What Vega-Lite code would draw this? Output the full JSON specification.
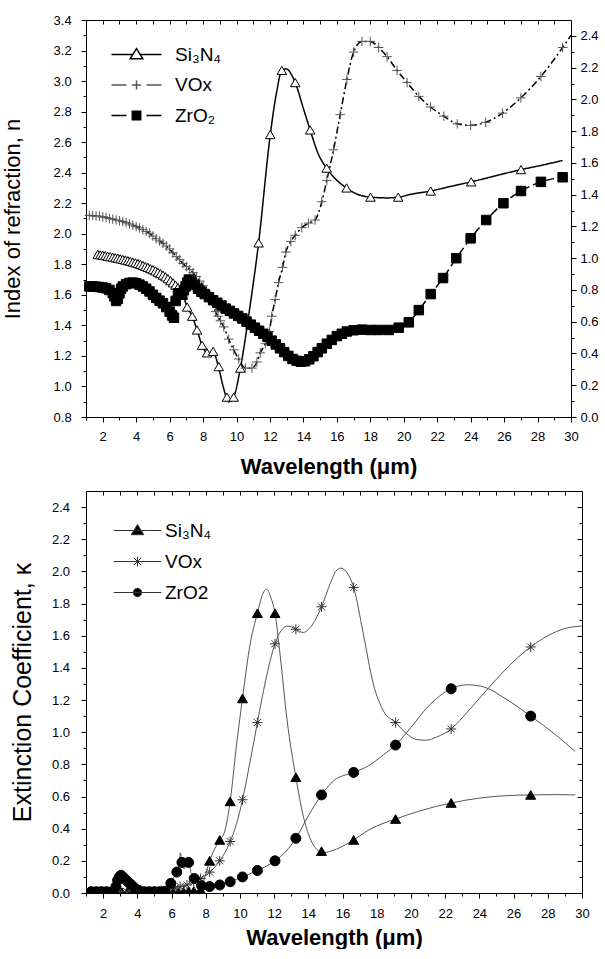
{
"$schema": "https://vega.github.io/schema/vega-lite/v6.json",
"padding": {"left": 0, "top": 13, "right": 0, "bottom": 0},
"spacing": 74,
"bounds": "flush",
"resolve": {"scale": {"shape": "independent", "fill": "independent", "stroke": "independent"}, "legend": {"shape": "independent", "fill": "independent", "stroke": "independent"}},
"config": {
  "font": "Liberation Sans",
  "view": {"stroke": "black", "strokeWidth": 1},
  "axis": {"grid": false, "domainColor": "black", "tickColor": "black", "labelColor": "black", "titleColor": "black", "labelFontSize": 13, "tickWidth": 1, "domainWidth": 1, "labelFont": "Liberation Sans", "titleFont": "Liberation Sans", "labelFlush": false, "labelOverlap": false},
  "legend": {"labelFont": "Liberation Sans", "labelColor": "black"}
},
"datasets": {
  "nl": [
    {"series":"Si₃N₄","wl":1.7,"val":1.865},{"series":"Si₃N₄","wl":2.0,"val":1.86},{"series":"Si₃N₄","wl":2.5,"val":1.85},{"series":"Si₃N₄","wl":3.0,"val":1.84},{"series":"Si₃N₄","wl":3.5,"val":1.824},{"series":"Si₃N₄","wl":4.0,"val":1.808},{"series":"Si₃N₄","wl":4.5,"val":1.79},{"series":"Si₃N₄","wl":5.0,"val":1.765},{"series":"Si₃N₄","wl":5.5,"val":1.735},{"series":"Si₃N₄","wl":6.0,"val":1.697},{"series":"Si₃N₄","wl":6.5,"val":1.648},{"series":"Si₃N₄","wl":6.8,"val":1.60},{"series":"Si₃N₄","wl":7.05,"val":1.52},{"series":"Si₃N₄","wl":7.35,"val":1.46},{"series":"Si₃N₄","wl":7.64,"val":1.37},{"series":"Si₃N₄","wl":7.94,"val":1.27},{"series":"Si₃N₄","wl":8.24,"val":1.22},{"series":"Si₃N₄","wl":8.6,"val":1.225},{"series":"Si₃N₄","wl":8.94,"val":1.12},{"series":"Si₃N₄","wl":9.2,"val":1.0},{"series":"Si₃N₄","wl":9.53,"val":0.90},{"series":"Si₃N₄","wl":9.83,"val":0.93},{"series":"Si₃N₄","wl":10.23,"val":1.12},{"series":"Si₃N₄","wl":10.8,"val":1.52},{"series":"Si₃N₄","wl":11.32,"val":1.94},{"series":"Si₃N₄","wl":12.02,"val":2.65},{"series":"Si₃N₄","wl":12.4,"val":2.93},{"series":"Si₃N₄","wl":12.71,"val":3.07},{"series":"Si₃N₄","wl":12.95,"val":3.08},{"series":"Si₃N₄","wl":13.51,"val":2.99},{"series":"Si₃N₄","wl":14.0,"val":2.82},{"series":"Si₃N₄","wl":14.4,"val":2.68},{"series":"Si₃N₄","wl":14.9,"val":2.52},{"series":"Si₃N₄","wl":15.39,"val":2.43},{"series":"Si₃N₄","wl":16.0,"val":2.35},{"series":"Si₃N₄","wl":16.58,"val":2.30},{"series":"Si₃N₄","wl":17.2,"val":2.26},{"series":"Si₃N₄","wl":18.01,"val":2.24},{"series":"Si₃N₄","wl":19.0,"val":2.235},{"series":"Si₃N₄","wl":19.67,"val":2.24},{"series":"Si₃N₄","wl":20.5,"val":2.26},{"series":"Si₃N₄","wl":21.61,"val":2.28},{"series":"Si₃N₄","wl":22.8,"val":2.31},{"series":"Si₃N₄","wl":24.03,"val":2.34},{"series":"Si₃N₄","wl":25.5,"val":2.38},{"series":"Si₃N₄","wl":27.01,"val":2.42},{"series":"Si₃N₄","wl":28.3,"val":2.45},{"series":"Si₃N₄","wl":29.5,"val":2.48},
    {"series":"VOx","wl":1.2,"val":2.12},{"series":"VOx","wl":1.8,"val":2.115},{"series":"VOx","wl":2.5,"val":2.10},{"series":"VOx","wl":3.2,"val":2.08},{"series":"VOx","wl":3.7,"val":2.06},{"series":"VOx","wl":4.2,"val":2.038},{"series":"VOx","wl":4.7,"val":2.01},{"series":"VOx","wl":5.2,"val":1.967},{"series":"VOx","wl":5.7,"val":1.93},{"series":"VOx","wl":6.2,"val":1.875},{"series":"VOx","wl":6.8,"val":1.805},{"series":"VOx","wl":7.4,"val":1.745},{"series":"VOx","wl":7.8,"val":1.69},{"series":"VOx","wl":8.2,"val":1.625},{"series":"VOx","wl":8.5,"val":1.56},{"series":"VOx","wl":8.74,"val":1.49},{"series":"VOx","wl":9.04,"val":1.43},{"series":"VOx","wl":9.24,"val":1.39},{"series":"VOx","wl":9.53,"val":1.31},{"series":"VOx","wl":9.83,"val":1.24},{"series":"VOx","wl":10.13,"val":1.18},{"series":"VOx","wl":10.53,"val":1.12},{"series":"VOx","wl":10.92,"val":1.12},{"series":"VOx","wl":11.22,"val":1.16},{"series":"VOx","wl":11.42,"val":1.22},{"series":"VOx","wl":11.72,"val":1.28},{"series":"VOx","wl":11.96,"val":1.36},{"series":"VOx","wl":12.11,"val":1.46},{"series":"VOx","wl":12.31,"val":1.57},{"series":"VOx","wl":12.51,"val":1.68},{"series":"VOx","wl":12.75,"val":1.78},{"series":"VOx","wl":12.95,"val":1.88},{"series":"VOx","wl":13.25,"val":1.95},{"series":"VOx","wl":13.51,"val":1.99},{"series":"VOx","wl":13.9,"val":2.04},{"series":"VOx","wl":14.3,"val":2.07},{"series":"VOx","wl":14.7,"val":2.09},{"series":"VOx","wl":15.1,"val":2.21},{"series":"VOx","wl":15.4,"val":2.35},{"series":"VOx","wl":15.8,"val":2.55},{"series":"VOx","wl":16.2,"val":2.78},{"series":"VOx","wl":16.6,"val":3.01},{"series":"VOx","wl":17.0,"val":3.19},{"series":"VOx","wl":17.5,"val":3.26},{"series":"VOx","wl":18.0,"val":3.26},{"series":"VOx","wl":18.5,"val":3.22},{"series":"VOx","wl":19.0,"val":3.16},{"series":"VOx","wl":19.6,"val":3.07},{"series":"VOx","wl":20.2,"val":2.99},{"series":"VOx","wl":20.9,"val":2.90},{"series":"VOx","wl":21.6,"val":2.83},{"series":"VOx","wl":22.4,"val":2.77},{"series":"VOx","wl":23.2,"val":2.72},{"series":"VOx","wl":24.0,"val":2.71},{"series":"VOx","wl":24.9,"val":2.73},{"series":"VOx","wl":25.9,"val":2.79},{"series":"VOx","wl":27.0,"val":2.89},{"series":"VOx","wl":28.2,"val":3.03},{"series":"VOx","wl":29.5,"val":3.22},{"series":"VOx","wl":30.0,"val":3.30},
    {"series":"ZrO₂","wl":1.2,"val":1.655},{"series":"ZrO₂","wl":1.8,"val":1.651},{"series":"ZrO₂","wl":2.2,"val":1.643},{"series":"ZrO₂","wl":2.5,"val":1.625},{"series":"ZrO₂","wl":2.7,"val":1.59},{"series":"ZrO₂","wl":2.82,"val":1.555},{"series":"ZrO₂","wl":2.95,"val":1.59},{"series":"ZrO₂","wl":3.1,"val":1.64},{"series":"ZrO₂","wl":3.3,"val":1.665},{"series":"ZrO₂","wl":3.8,"val":1.68},{"series":"ZrO₂","wl":4.4,"val":1.655},{"series":"ZrO₂","wl":5.0,"val":1.60},{"series":"ZrO₂","wl":5.6,"val":1.545},{"series":"ZrO₂","wl":6.0,"val":1.49},{"series":"ZrO₂","wl":6.26,"val":1.45},{"series":"ZrO₂","wl":6.36,"val":1.56},{"series":"ZrO₂","wl":6.5,"val":1.61},{"series":"ZrO₂","wl":6.75,"val":1.60},{"series":"ZrO₂","wl":6.95,"val":1.655},{"series":"ZrO₂","wl":7.15,"val":1.70},{"series":"ZrO₂","wl":7.5,"val":1.665},{"series":"ZrO₂","wl":8.1,"val":1.605},{"series":"ZrO₂","wl":8.85,"val":1.548},{"series":"ZrO₂","wl":9.6,"val":1.495},{"series":"ZrO₂","wl":10.35,"val":1.445},{"series":"ZrO₂","wl":11.1,"val":1.385},{"series":"ZrO₂","wl":11.85,"val":1.325},{"series":"ZrO₂","wl":12.6,"val":1.25},{"series":"ZrO₂","wl":13.1,"val":1.20},{"series":"ZrO₂","wl":13.6,"val":1.168},{"series":"ZrO₂","wl":14.1,"val":1.165},{"series":"ZrO₂","wl":14.6,"val":1.198},{"series":"ZrO₂","wl":15.1,"val":1.25},{"series":"ZrO₂","wl":15.7,"val":1.305},{"series":"ZrO₂","wl":16.3,"val":1.345},{"series":"ZrO₂","wl":17.0,"val":1.368},{"series":"ZrO₂","wl":18.0,"val":1.37},{"series":"ZrO₂","wl":19.1,"val":1.37},{"series":"ZrO₂","wl":19.7,"val":1.385},{"series":"ZrO₂","wl":20.3,"val":1.42},{"series":"ZrO₂","wl":20.9,"val":1.50},{"series":"ZrO₂","wl":21.61,"val":1.605},{"series":"ZrO₂","wl":22.35,"val":1.71},{"series":"ZrO₂","wl":23.14,"val":1.84},{"series":"ZrO₂","wl":24.0,"val":1.97},{"series":"ZrO₂","wl":24.93,"val":2.09},{"series":"ZrO₂","wl":25.96,"val":2.20},{"series":"ZrO₂","wl":27.01,"val":2.28},{"series":"ZrO₂","wl":28.2,"val":2.34},{"series":"ZrO₂","wl":29.5,"val":2.37}
  ],
  "nm": [
    {"series":"Si₃N₄","wl":1.7,"val":1.865},{"series":"Si₃N₄","wl":1.85,"val":1.862},{"series":"Si₃N₄","wl":2.0,"val":1.86},{"series":"Si₃N₄","wl":2.15,"val":1.857},{"series":"Si₃N₄","wl":2.3,"val":1.853},{"series":"Si₃N₄","wl":2.45,"val":1.85},{"series":"Si₃N₄","wl":2.6,"val":1.847},{"series":"Si₃N₄","wl":2.75,"val":1.843},{"series":"Si₃N₄","wl":2.9,"val":1.84},{"series":"Si₃N₄","wl":3.05,"val":1.836},{"series":"Si₃N₄","wl":3.2,"val":1.832},{"series":"Si₃N₄","wl":3.35,"val":1.828},{"series":"Si₃N₄","wl":3.5,"val":1.824},{"series":"Si₃N₄","wl":3.65,"val":1.82},{"series":"Si₃N₄","wl":3.8,"val":1.815},{"series":"Si₃N₄","wl":3.95,"val":1.81},{"series":"Si₃N₄","wl":4.1,"val":1.805},{"series":"Si₃N₄","wl":4.25,"val":1.80},{"series":"Si₃N₄","wl":4.4,"val":1.793},{"series":"Si₃N₄","wl":4.55,"val":1.786},{"series":"Si₃N₄","wl":4.7,"val":1.78},{"series":"Si₃N₄","wl":4.85,"val":1.772},{"series":"Si₃N₄","wl":5.0,"val":1.765},{"series":"Si₃N₄","wl":5.15,"val":1.757},{"series":"Si₃N₄","wl":5.3,"val":1.748},{"series":"Si₃N₄","wl":5.45,"val":1.739},{"series":"Si₃N₄","wl":5.6,"val":1.729},{"series":"Si₃N₄","wl":5.75,"val":1.718},{"series":"Si₃N₄","wl":5.9,"val":1.706},{"series":"Si₃N₄","wl":6.05,"val":1.693},{"series":"Si₃N₄","wl":6.2,"val":1.679},{"series":"Si₃N₄","wl":6.35,"val":1.664},{"series":"Si₃N₄","wl":6.5,"val":1.648},{"series":"Si₃N₄","wl":6.65,"val":1.625},{"series":"Si₃N₄","wl":6.8,"val":1.60},{"series":"Si₃N₄","wl":7.05,"val":1.52},{"series":"Si₃N₄","wl":7.35,"val":1.46},{"series":"Si₃N₄","wl":7.64,"val":1.37},{"series":"Si₃N₄","wl":7.94,"val":1.27},{"series":"Si₃N₄","wl":8.24,"val":1.22},{"series":"Si₃N₄","wl":8.6,"val":1.23},{"series":"Si₃N₄","wl":8.94,"val":1.13},{"series":"Si₃N₄","wl":9.43,"val":0.93},{"series":"Si₃N₄","wl":9.83,"val":0.93},{"series":"Si₃N₄","wl":10.23,"val":1.12},{"series":"Si₃N₄","wl":11.32,"val":1.94},{"series":"Si₃N₄","wl":12.02,"val":2.65},{"series":"Si₃N₄","wl":12.71,"val":3.07},{"series":"Si₃N₄","wl":13.51,"val":2.99},{"series":"Si₃N₄","wl":14.4,"val":2.68},{"series":"Si₃N₄","wl":15.39,"val":2.43},{"series":"Si₃N₄","wl":16.58,"val":2.30},{"series":"Si₃N₄","wl":18.01,"val":2.24},{"series":"Si₃N₄","wl":19.67,"val":2.24},{"series":"Si₃N₄","wl":21.61,"val":2.28},{"series":"Si₃N₄","wl":24.03,"val":2.34},{"series":"Si₃N₄","wl":27.01,"val":2.42},
    {"series":"VOx","wl":1.2,"val":2.12},{"series":"VOx","wl":1.4,"val":2.12},{"series":"VOx","wl":1.6,"val":2.117},{"series":"VOx","wl":1.8,"val":2.115},{"series":"VOx","wl":2.0,"val":2.11},{"series":"VOx","wl":2.2,"val":2.106},{"series":"VOx","wl":2.4,"val":2.10},{"series":"VOx","wl":2.6,"val":2.096},{"series":"VOx","wl":2.8,"val":2.09},{"series":"VOx","wl":3.0,"val":2.085},{"series":"VOx","wl":3.2,"val":2.08},{"series":"VOx","wl":3.4,"val":2.072},{"series":"VOx","wl":3.6,"val":2.064},{"series":"VOx","wl":3.8,"val":2.056},{"series":"VOx","wl":4.0,"val":2.047},{"series":"VOx","wl":4.2,"val":2.038},{"series":"VOx","wl":4.4,"val":2.027},{"series":"VOx","wl":4.6,"val":2.015},{"series":"VOx","wl":4.8,"val":2.003},{"series":"VOx","wl":5.0,"val":1.985},{"series":"VOx","wl":5.2,"val":1.967},{"series":"VOx","wl":5.4,"val":1.953},{"series":"VOx","wl":5.6,"val":1.938},{"series":"VOx","wl":5.8,"val":1.92},{"series":"VOx","wl":6.0,"val":1.90},{"series":"VOx","wl":6.2,"val":1.875},{"series":"VOx","wl":6.4,"val":1.85},{"series":"VOx","wl":6.6,"val":1.83},{"series":"VOx","wl":6.8,"val":1.805},{"series":"VOx","wl":7.0,"val":1.785},{"series":"VOx","wl":7.2,"val":1.765},{"series":"VOx","wl":7.4,"val":1.745},{"series":"VOx","wl":7.6,"val":1.72},{"series":"VOx","wl":7.8,"val":1.69},{"series":"VOx","wl":8.0,"val":1.66},{"series":"VOx","wl":8.2,"val":1.625},{"series":"VOx","wl":8.5,"val":1.56},{"series":"VOx","wl":8.74,"val":1.49},{"series":"VOx","wl":8.9,"val":1.46},{"series":"VOx","wl":9.04,"val":1.43},{"series":"VOx","wl":9.24,"val":1.39},{"series":"VOx","wl":9.53,"val":1.31},{"series":"VOx","wl":9.83,"val":1.24},{"series":"VOx","wl":10.13,"val":1.18},{"series":"VOx","wl":10.53,"val":1.12},{"series":"VOx","wl":10.92,"val":1.12},{"series":"VOx","wl":11.22,"val":1.16},{"series":"VOx","wl":11.42,"val":1.22},{"series":"VOx","wl":11.72,"val":1.28},{"series":"VOx","wl":11.96,"val":1.36},{"series":"VOx","wl":12.11,"val":1.46},{"series":"VOx","wl":12.31,"val":1.57},{"series":"VOx","wl":12.51,"val":1.68},{"series":"VOx","wl":12.75,"val":1.78},{"series":"VOx","wl":12.95,"val":1.88},{"series":"VOx","wl":13.25,"val":1.95},{"series":"VOx","wl":13.51,"val":1.99},{"series":"VOx","wl":13.9,"val":2.04},{"series":"VOx","wl":14.3,"val":2.07},{"series":"VOx","wl":14.7,"val":2.09},{"series":"VOx","wl":15.1,"val":2.21},{"series":"VOx","wl":15.4,"val":2.35},{"series":"VOx","wl":15.8,"val":2.55},{"series":"VOx","wl":16.2,"val":2.78},{"series":"VOx","wl":16.6,"val":3.01},{"series":"VOx","wl":17.0,"val":3.19},{"series":"VOx","wl":17.5,"val":3.26},{"series":"VOx","wl":18.0,"val":3.26},{"series":"VOx","wl":18.5,"val":3.22},{"series":"VOx","wl":19.0,"val":3.16},{"series":"VOx","wl":19.6,"val":3.07},{"series":"VOx","wl":20.2,"val":2.99},{"series":"VOx","wl":20.9,"val":2.90},{"series":"VOx","wl":21.6,"val":2.83},{"series":"VOx","wl":22.4,"val":2.77},{"series":"VOx","wl":23.2,"val":2.72},{"series":"VOx","wl":24.0,"val":2.71},{"series":"VOx","wl":24.9,"val":2.73},{"series":"VOx","wl":25.9,"val":2.79},{"series":"VOx","wl":27.0,"val":2.89},{"series":"VOx","wl":28.2,"val":3.03},{"series":"VOx","wl":29.5,"val":3.22},
    {"series":"ZrO₂","wl":1.2,"val":1.655},{"series":"ZrO₂","wl":1.4,"val":1.655},{"series":"ZrO₂","wl":1.6,"val":1.653},{"series":"ZrO₂","wl":1.8,"val":1.651},{"series":"ZrO₂","wl":2.0,"val":1.648},{"series":"ZrO₂","wl":2.2,"val":1.643},{"series":"ZrO₂","wl":2.4,"val":1.632},{"series":"ZrO₂","wl":2.6,"val":1.612},{"series":"ZrO₂","wl":2.7,"val":1.59},{"series":"ZrO₂","wl":2.8,"val":1.56},{"series":"ZrO₂","wl":2.9,"val":1.575},{"series":"ZrO₂","wl":3.0,"val":1.61},{"series":"ZrO₂","wl":3.1,"val":1.64},{"series":"ZrO₂","wl":3.2,"val":1.655},{"series":"ZrO₂","wl":3.4,"val":1.67},{"series":"ZrO₂","wl":3.6,"val":1.678},{"series":"ZrO₂","wl":3.8,"val":1.68},{"series":"ZrO₂","wl":4.0,"val":1.676},{"series":"ZrO₂","wl":4.2,"val":1.667},{"series":"ZrO₂","wl":4.4,"val":1.655},{"series":"ZrO₂","wl":4.6,"val":1.64},{"series":"ZrO₂","wl":4.8,"val":1.622},{"series":"ZrO₂","wl":5.0,"val":1.60},{"series":"ZrO₂","wl":5.2,"val":1.58},{"series":"ZrO₂","wl":5.4,"val":1.562},{"series":"ZrO₂","wl":5.6,"val":1.545},{"series":"ZrO₂","wl":5.8,"val":1.52},{"series":"ZrO₂","wl":6.0,"val":1.49},{"series":"ZrO₂","wl":6.15,"val":1.465},{"series":"ZrO₂","wl":6.26,"val":1.45},{"series":"ZrO₂","wl":6.36,"val":1.56},{"series":"ZrO₂","wl":6.5,"val":1.61},{"series":"ZrO₂","wl":6.62,"val":1.605},{"series":"ZrO₂","wl":6.75,"val":1.60},{"series":"ZrO₂","wl":6.85,"val":1.63},{"series":"ZrO₂","wl":6.95,"val":1.655},{"series":"ZrO₂","wl":7.05,"val":1.68},{"series":"ZrO₂","wl":7.15,"val":1.70},{"series":"ZrO₂","wl":7.3,"val":1.685},{"series":"ZrO₂","wl":7.5,"val":1.665},{"series":"ZrO₂","wl":7.7,"val":1.64},{"series":"ZrO₂","wl":7.9,"val":1.62},{"series":"ZrO₂","wl":8.1,"val":1.605},{"series":"ZrO₂","wl":8.35,"val":1.585},{"series":"ZrO₂","wl":8.6,"val":1.565},{"series":"ZrO₂","wl":8.85,"val":1.548},{"series":"ZrO₂","wl":9.1,"val":1.53},{"series":"ZrO₂","wl":9.35,"val":1.51},{"series":"ZrO₂","wl":9.6,"val":1.495},{"series":"ZrO₂","wl":9.85,"val":1.478},{"series":"ZrO₂","wl":10.1,"val":1.462},{"series":"ZrO₂","wl":10.35,"val":1.445},{"series":"ZrO₂","wl":10.6,"val":1.425},{"series":"ZrO₂","wl":10.85,"val":1.405},{"series":"ZrO₂","wl":11.1,"val":1.385},{"series":"ZrO₂","wl":11.35,"val":1.365},{"series":"ZrO₂","wl":11.6,"val":1.345},{"series":"ZrO₂","wl":11.85,"val":1.325},{"series":"ZrO₂","wl":12.1,"val":1.30},{"series":"ZrO₂","wl":12.35,"val":1.275},{"series":"ZrO₂","wl":12.6,"val":1.25},{"series":"ZrO₂","wl":12.85,"val":1.225},{"series":"ZrO₂","wl":13.1,"val":1.20},{"series":"ZrO₂","wl":13.35,"val":1.18},{"series":"ZrO₂","wl":13.6,"val":1.168},{"series":"ZrO₂","wl":13.85,"val":1.162},{"series":"ZrO₂","wl":14.1,"val":1.165},{"series":"ZrO₂","wl":14.35,"val":1.178},{"series":"ZrO₂","wl":14.6,"val":1.198},{"series":"ZrO₂","wl":14.85,"val":1.225},{"series":"ZrO₂","wl":15.1,"val":1.25},{"series":"ZrO₂","wl":15.4,"val":1.28},{"series":"ZrO₂","wl":15.7,"val":1.305},{"series":"ZrO₂","wl":16.0,"val":1.33},{"series":"ZrO₂","wl":16.3,"val":1.345},{"series":"ZrO₂","wl":16.6,"val":1.36},{"series":"ZrO₂","wl":17.0,"val":1.368},{"series":"ZrO₂","wl":17.5,"val":1.372},{"series":"ZrO₂","wl":18.0,"val":1.37},{"series":"ZrO₂","wl":18.5,"val":1.37},{"series":"ZrO₂","wl":19.1,"val":1.37},{"series":"ZrO₂","wl":19.7,"val":1.385},{"series":"ZrO₂","wl":20.3,"val":1.42},{"series":"ZrO₂","wl":20.9,"val":1.50},{"series":"ZrO₂","wl":21.61,"val":1.605},{"series":"ZrO₂","wl":22.35,"val":1.71},{"series":"ZrO₂","wl":23.14,"val":1.84},{"series":"ZrO₂","wl":24.0,"val":1.97},{"series":"ZrO₂","wl":24.93,"val":2.09},{"series":"ZrO₂","wl":25.96,"val":2.20},{"series":"ZrO₂","wl":27.01,"val":2.28},{"series":"ZrO₂","wl":28.2,"val":2.34},{"series":"ZrO₂","wl":29.5,"val":2.37}
  ],
  "kl": [
    {"series":"Si₃N₄","wl":1.3,"val":0.005},{"series":"Si₃N₄","wl":6.0,"val":0.005},{"series":"Si₃N₄","wl":7.0,"val":0.01},{"series":"Si₃N₄","wl":7.7,"val":0.02},{"series":"Si₃N₄","wl":7.95,"val":0.1},{"series":"Si₃N₄","wl":8.23,"val":0.20},{"series":"Si₃N₄","wl":8.5,"val":0.27},{"series":"Si₃N₄","wl":8.82,"val":0.33},{"series":"Si₃N₄","wl":9.1,"val":0.38},{"series":"Si₃N₄","wl":9.43,"val":0.57},{"series":"Si₃N₄","wl":9.8,"val":0.92},{"series":"Si₃N₄","wl":10.15,"val":1.21},{"series":"Si₃N₄","wl":10.6,"val":1.55},{"series":"Si₃N₄","wl":11.02,"val":1.74},{"series":"Si₃N₄","wl":11.3,"val":1.85},{"series":"Si₃N₄","wl":11.55,"val":1.89},{"series":"Si₃N₄","wl":11.8,"val":1.84},{"series":"Si₃N₄","wl":12.05,"val":1.74},{"series":"Si₃N₄","wl":12.35,"val":1.48},{"series":"Si₃N₄","wl":12.75,"val":1.08},{"series":"Si₃N₄","wl":13.27,"val":0.72},{"series":"Si₃N₄","wl":13.7,"val":0.48},{"series":"Si₃N₄","wl":14.1,"val":0.34},{"series":"Si₃N₄","wl":14.5,"val":0.27},{"series":"Si₃N₄","wl":14.85,"val":0.25},{"series":"Si₃N₄","wl":15.3,"val":0.26},{"series":"Si₃N₄","wl":16.0,"val":0.29},{"series":"Si₃N₄","wl":16.65,"val":0.33},{"series":"Si₃N₄","wl":17.5,"val":0.39},{"series":"Si₃N₄","wl":18.3,"val":0.43},{"series":"Si₃N₄","wl":19.1,"val":0.46},{"series":"Si₃N₄","wl":20.5,"val":0.51},{"series":"Si₃N₄","wl":22.35,"val":0.56},{"series":"Si₃N₄","wl":24.0,"val":0.59},{"series":"Si₃N₄","wl":25.5,"val":0.605},{"series":"Si₃N₄","wl":27.0,"val":0.61},{"series":"Si₃N₄","wl":28.5,"val":0.612},{"series":"Si₃N₄","wl":29.6,"val":0.61},
    {"series":"VOx","wl":1.3,"val":0.005},{"series":"VOx","wl":4.0,"val":0.01},{"series":"VOx","wl":6.0,"val":0.02},{"series":"VOx","wl":6.2,"val":0.03},{"series":"VOx","wl":6.5,"val":0.04},{"series":"VOx","wl":6.9,"val":0.05},{"series":"VOx","wl":7.3,"val":0.07},{"series":"VOx","wl":7.7,"val":0.09},{"series":"VOx","wl":8.23,"val":0.13},{"series":"VOx","wl":8.82,"val":0.20},{"series":"VOx","wl":9.43,"val":0.32},{"series":"VOx","wl":9.8,"val":0.43},{"series":"VOx","wl":10.15,"val":0.58},{"series":"VOx","wl":10.6,"val":0.82},{"series":"VOx","wl":11.02,"val":1.06},{"series":"VOx","wl":11.5,"val":1.32},{"series":"VOx","wl":12.05,"val":1.55},{"series":"VOx","wl":12.4,"val":1.63},{"series":"VOx","wl":12.8,"val":1.66},{"series":"VOx","wl":13.27,"val":1.64},{"series":"VOx","wl":13.7,"val":1.62},{"series":"VOx","wl":14.1,"val":1.65},{"series":"VOx","wl":14.77,"val":1.78},{"series":"VOx","wl":15.3,"val":1.93},{"series":"VOx","wl":15.6,"val":2.0},{"series":"VOx","wl":15.9,"val":2.02},{"series":"VOx","wl":16.2,"val":2.0},{"series":"VOx","wl":16.65,"val":1.90},{"series":"VOx","wl":17.2,"val":1.62},{"series":"VOx","wl":17.8,"val":1.30},{"series":"VOx","wl":18.4,"val":1.13},{"series":"VOx","wl":19.1,"val":1.06},{"series":"VOx","wl":19.7,"val":0.995},{"series":"VOx","wl":20.3,"val":0.955},{"series":"VOx","wl":20.9,"val":0.95},{"series":"VOx","wl":21.5,"val":0.97},{"series":"VOx","wl":22.35,"val":1.02},{"series":"VOx","wl":23.0,"val":1.09},{"series":"VOx","wl":24.0,"val":1.21},{"series":"VOx","wl":25.0,"val":1.33},{"series":"VOx","wl":26.0,"val":1.44},{"series":"VOx","wl":27.0,"val":1.53},{"series":"VOx","wl":28.0,"val":1.60},{"series":"VOx","wl":29.0,"val":1.645},{"series":"VOx","wl":30.0,"val":1.66},
    {"series":"ZrO2","wl":1.3,"val":0.01},{"series":"ZrO2","wl":2.6,"val":0.01},{"series":"ZrO2","wl":2.75,"val":0.04},{"series":"ZrO2","wl":2.85,"val":0.08},{"series":"ZrO2","wl":2.95,"val":0.10},{"series":"ZrO2","wl":3.05,"val":0.11},{"series":"ZrO2","wl":3.15,"val":0.10},{"series":"ZrO2","wl":3.3,"val":0.085},{"series":"ZrO2","wl":3.45,"val":0.07},{"series":"ZrO2","wl":3.6,"val":0.055},{"series":"ZrO2","wl":3.75,"val":0.04},{"series":"ZrO2","wl":3.9,"val":0.025},{"series":"ZrO2","wl":4.1,"val":0.015},{"series":"ZrO2","wl":4.3,"val":0.01},{"series":"ZrO2","wl":5.7,"val":0.01},{"series":"ZrO2","wl":5.8,"val":0.02},{"series":"ZrO2","wl":5.96,"val":0.06},{"series":"ZrO2","wl":6.15,"val":0.10},{"series":"ZrO2","wl":6.31,"val":0.13},{"series":"ZrO2","wl":6.45,"val":0.19},{"series":"ZrO2","wl":6.52,"val":0.25},{"series":"ZrO2","wl":6.6,"val":0.19},{"series":"ZrO2","wl":6.75,"val":0.15},{"series":"ZrO2","wl":6.9,"val":0.19},{"series":"ZrO2","wl":7.0,"val":0.19},{"series":"ZrO2","wl":7.15,"val":0.12},{"series":"ZrO2","wl":7.33,"val":0.09},{"series":"ZrO2","wl":7.76,"val":0.045},{"series":"ZrO2","wl":8.23,"val":0.04},{"series":"ZrO2","wl":8.82,"val":0.05},{"series":"ZrO2","wl":9.43,"val":0.07},{"series":"ZrO2","wl":10.15,"val":0.10},{"series":"ZrO2","wl":11.02,"val":0.14},{"series":"ZrO2","wl":12.05,"val":0.20},{"series":"ZrO2","wl":12.7,"val":0.26},{"series":"ZrO2","wl":13.27,"val":0.34},{"series":"ZrO2","wl":14.0,"val":0.48},{"series":"ZrO2","wl":14.77,"val":0.61},{"series":"ZrO2","wl":15.5,"val":0.70},{"series":"ZrO2","wl":16.65,"val":0.75},{"series":"ZrO2","wl":17.5,"val":0.79},{"series":"ZrO2","wl":18.4,"val":0.86},{"series":"ZrO2","wl":19.1,"val":0.92},{"series":"ZrO2","wl":20.0,"val":1.03},{"series":"ZrO2","wl":21.0,"val":1.16},{"series":"ZrO2","wl":22.35,"val":1.27},{"series":"ZrO2","wl":23.3,"val":1.295},{"series":"ZrO2","wl":24.3,"val":1.28},{"series":"ZrO2","wl":25.5,"val":1.21},{"series":"ZrO2","wl":27.0,"val":1.10},{"series":"ZrO2","wl":28.5,"val":0.98},{"series":"ZrO2","wl":29.6,"val":0.88}
  ],
  "km": [
    {"series":"Si₃N₄","wl":1.3,"val":0.005},{"series":"Si₃N₄","wl":1.6,"val":0.005},{"series":"Si₃N₄","wl":1.9,"val":0.005},{"series":"Si₃N₄","wl":2.2,"val":0.005},{"series":"Si₃N₄","wl":2.5,"val":0.005},{"series":"Si₃N₄","wl":2.8,"val":0.005},{"series":"Si₃N₄","wl":3.1,"val":0.005},{"series":"Si₃N₄","wl":3.4,"val":0.005},{"series":"Si₃N₄","wl":3.7,"val":0.005},{"series":"Si₃N₄","wl":4.0,"val":0.005},{"series":"Si₃N₄","wl":4.3,"val":0.005},{"series":"Si₃N₄","wl":4.6,"val":0.005},{"series":"Si₃N₄","wl":4.9,"val":0.005},{"series":"Si₃N₄","wl":5.2,"val":0.005},{"series":"Si₃N₄","wl":5.5,"val":0.005},{"series":"Si₃N₄","wl":5.8,"val":0.005},{"series":"Si₃N₄","wl":6.1,"val":0.005},{"series":"Si₃N₄","wl":6.4,"val":0.005},{"series":"Si₃N₄","wl":6.7,"val":0.008},{"series":"Si₃N₄","wl":7.0,"val":0.01},{"series":"Si₃N₄","wl":7.3,"val":0.012},{"series":"Si₃N₄","wl":7.7,"val":0.02},{"series":"Si₃N₄","wl":8.23,"val":0.20},{"series":"Si₃N₄","wl":8.82,"val":0.33},{"series":"Si₃N₄","wl":9.43,"val":0.57},{"series":"Si₃N₄","wl":10.15,"val":1.21},{"series":"Si₃N₄","wl":11.02,"val":1.74},{"series":"Si₃N₄","wl":12.05,"val":1.74},{"series":"Si₃N₄","wl":13.27,"val":0.72},{"series":"Si₃N₄","wl":14.77,"val":0.26},{"series":"Si₃N₄","wl":16.65,"val":0.33},{"series":"Si₃N₄","wl":19.1,"val":0.46},{"series":"Si₃N₄","wl":22.35,"val":0.56},{"series":"Si₃N₄","wl":27.0,"val":0.61},
    {"series":"VOx","wl":1.4,"val":0.008},{"series":"VOx","wl":1.8,"val":0.008},{"series":"VOx","wl":2.2,"val":0.008},{"series":"VOx","wl":2.6,"val":0.008},{"series":"VOx","wl":3.0,"val":0.008},{"series":"VOx","wl":3.4,"val":0.008},{"series":"VOx","wl":3.8,"val":0.008},{"series":"VOx","wl":4.2,"val":0.01},{"series":"VOx","wl":4.6,"val":0.01},{"series":"VOx","wl":5.0,"val":0.012},{"series":"VOx","wl":5.4,"val":0.015},{"series":"VOx","wl":5.8,"val":0.018},{"series":"VOx","wl":6.2,"val":0.03},{"series":"VOx","wl":6.5,"val":0.04},{"series":"VOx","wl":6.9,"val":0.05},{"series":"VOx","wl":7.3,"val":0.07},{"series":"VOx","wl":7.7,"val":0.09},{"series":"VOx","wl":8.23,"val":0.13},{"series":"VOx","wl":8.82,"val":0.20},{"series":"VOx","wl":9.43,"val":0.32},{"series":"VOx","wl":10.15,"val":0.58},{"series":"VOx","wl":11.02,"val":1.06},{"series":"VOx","wl":12.05,"val":1.55},{"series":"VOx","wl":13.27,"val":1.64},{"series":"VOx","wl":14.77,"val":1.78},{"series":"VOx","wl":16.65,"val":1.90},{"series":"VOx","wl":19.1,"val":1.06},{"series":"VOx","wl":22.35,"val":1.02},{"series":"VOx","wl":27.0,"val":1.53},
    {"series":"ZrO2","wl":1.3,"val":0.008},{"series":"ZrO2","wl":1.6,"val":0.008},{"series":"ZrO2","wl":1.9,"val":0.008},{"series":"ZrO2","wl":2.2,"val":0.008},{"series":"ZrO2","wl":2.5,"val":0.008},{"series":"ZrO2","wl":2.75,"val":0.04},{"series":"ZrO2","wl":2.85,"val":0.08},{"series":"ZrO2","wl":2.95,"val":0.10},{"series":"ZrO2","wl":3.05,"val":0.11},{"series":"ZrO2","wl":3.15,"val":0.10},{"series":"ZrO2","wl":3.3,"val":0.085},{"series":"ZrO2","wl":3.45,"val":0.07},{"series":"ZrO2","wl":3.6,"val":0.055},{"series":"ZrO2","wl":3.75,"val":0.04},{"series":"ZrO2","wl":3.9,"val":0.025},{"series":"ZrO2","wl":4.1,"val":0.015},{"series":"ZrO2","wl":4.4,"val":0.008},{"series":"ZrO2","wl":4.7,"val":0.008},{"series":"ZrO2","wl":5.0,"val":0.008},{"series":"ZrO2","wl":5.3,"val":0.008},{"series":"ZrO2","wl":5.6,"val":0.01},{"series":"ZrO2","wl":5.96,"val":0.06},{"series":"ZrO2","wl":6.31,"val":0.13},{"series":"ZrO2","wl":6.61,"val":0.19},{"series":"ZrO2","wl":7.0,"val":0.19},{"series":"ZrO2","wl":7.33,"val":0.09},{"series":"ZrO2","wl":7.76,"val":0.045},{"series":"ZrO2","wl":8.23,"val":0.04},{"series":"ZrO2","wl":8.82,"val":0.05},{"series":"ZrO2","wl":9.43,"val":0.07},{"series":"ZrO2","wl":10.15,"val":0.10},{"series":"ZrO2","wl":11.02,"val":0.14},{"series":"ZrO2","wl":12.05,"val":0.20},{"series":"ZrO2","wl":13.27,"val":0.34},{"series":"ZrO2","wl":14.77,"val":0.61},{"series":"ZrO2","wl":16.65,"val":0.75},{"series":"ZrO2","wl":19.1,"val":0.92},{"series":"ZrO2","wl":22.35,"val":1.27},{"series":"ZrO2","wl":27.0,"val":1.10}
  ]
},
"vconcat": [
  {
    "width": 485, "height": 397,
    "resolve": {"scale": {"x": "independent", "y": "independent"}, "axis": {"x": "independent", "y": "independent"}},
    "layer": [
      {
        "data": {"name": "nl"},
        "mark": {"type": "line", "interpolate": "monotone", "stroke": "black", "strokeWidth": 1.5},
        "encoding": {
          "x": {"field": "wl", "type": "quantitative", "scale": {"domain": [1, 30], "nice": false, "zero": false},
                "axis": {"orient": "bottom", "values": [2,4,6,8,10,12,14,16,18,20,22,24,26,28,30], "format": "d", "tickSize": 5, "labelPadding": 8.5, "title": "Wavelength (μm)", "titleFontSize": 22, "titleFontWeight": "bold", "titlePadding": 13}},
          "y": {"field": "val", "type": "quantitative", "scale": {"domain": [0.8, 3.4], "nice": false, "zero": false},
                "axis": {"orient": "left", "values": [0.8,1.0,1.2,1.4,1.6,1.8,2.0,2.2,2.4,2.6,2.8,3.0,3.2,3.4], "format": ".1f", "tickSize": 5, "labelPadding": 9.8, "title": "Index of refraction, n", "titleFontSize": 22, "titleFontWeight": "normal", "titlePadding": 29}},
          "detail": {"field": "series", "type": "nominal"},
          "strokeDash": {"condition": [{"test": "datum.series === 'VOx'", "value": [7,3,2,3]}, {"test": "datum.series === 'ZrO₂'", "value": [9,4]}], "value": [1,0]}
        }
      },
      {
        "data": {"name": "nm"},
        "mark": {"type": "point", "filled": true, "size": 90, "strokeWidth": 1, "opacity": 1},
        "encoding": {
          "x": {"field": "wl", "type": "quantitative", "scale": {"domain": [1, 30], "nice": false, "zero": false},
                "axis": {"orient": "bottom", "values": [1,3,5,7,9,11,13,15,17,19,21,23,25,27,29], "tickSize": 3, "labels": false, "domain": false, "title": null}},
          "y": {"field": "val", "type": "quantitative", "scale": {"domain": [0.8, 3.4], "nice": false, "zero": false},
                "axis": {"orient": "left", "values": [0.9,1.1,1.3,1.5,1.7,1.9,2.1,2.3,2.5,2.7,2.9,3.1,3.3], "tickSize": 3, "labels": false, "domain": false, "title": null}},
          "shape": {"condition": [{"test": "datum.series === 'VOx'", "value": "M-1,0H1M0,-1V1"}, {"test": "datum.series === 'ZrO₂'", "value": "square"}], "value": "triangle-up"},
          "fill": {"condition": [{"test": "datum.series === 'ZrO₂'", "value": "black"}, {"test": "datum.series === 'VOx'", "value": "transparent"}], "value": "white"},
          "stroke": {"condition": {"test": "datum.series === 'VOx'", "value": "#555555"}, "value": "black"}
        }
      },
      {
        "data": {"name": "nm"},
        "mark": {"type": "point", "filled": true, "opacity": 0, "clip": true},
        "encoding": {
          "x": {"field": "wl", "type": "quantitative", "scale": {"domain": [1, 30], "nice": false, "zero": false}, "axis": null},
          "y": {"field": "val", "type": "quantitative", "scale": {"domain": [0.8, 3.4], "nice": false, "zero": false}, "axis": null},
          "shape": {"field": "series", "type": "nominal", "scale": {"domain": ["Si₃N₄","VOx","ZrO₂"], "range": ["M-3.57,0H-0.53M0.53,0H3.57M0,-0.85L0.9,0.6L-0.9,0.6Z", "M-3.57,0H-1.43M1.43,0H3.57M-0.65,0H0.65M0,-0.65V0.65", "M-3.57,0H-1.43M1.43,0H3.57M-0.6,-0.6H0.6V0.6H-0.6Z"]},
                    "legend": {"title": null, "orient": "none", "legendX": 41, "legendY": 25, "symbolSize": 196, "symbolOpacity": 1, "symbolStrokeWidth": 1.5, "labelFontSize": 19, "labelOffset": 29, "rowPadding": 10.5, "padding": 0, "labelLimit": 300}},
          "fill": {"field": "series", "type": "nominal", "scale": {"domain": ["Si₃N₄","VOx","ZrO₂"], "range": ["white", "white", "black"]}},
          "stroke": {"field": "series", "type": "nominal", "scale": {"domain": ["Si₃N₄","VOx","ZrO₂"], "range": ["black", "#555555", "black"]}}
        }
      },
      {
        "data": {"name": "nl"},
        "mark": {"type": "point", "opacity": 0, "clip": true},
        "encoding": {
          "x": {"field": "wl", "type": "quantitative", "scale": {"domain": [1, 30], "nice": false, "zero": false},
                "axis": {"orient": "top", "values": [2,3,4,5,6,7,8,9,10,11,12,13,14,15,16,17,18,19,20,21,22,23,24,25,26,27,28,29], "tickSize": 4, "offset": -4, "labels": false, "domain": false, "title": null}},
          "y": {"field": "val", "type": "quantitative", "scale": {"domain": [0, 2.5], "nice": false, "zero": false},
                "axis": {"orient": "right", "values": [0,0.2,0.4,0.6,0.8,1.0,1.2,1.4,1.6,1.8,2.0,2.2,2.4], "format": ".1f", "tickSize": 5, "labelPadding": 4, "domain": false, "title": null}}
        }
      },
      {
        "data": {"name": "nl"},
        "mark": {"type": "point", "opacity": 0, "clip": true},
        "encoding": {
          "x": {"field": "wl", "type": "quantitative", "scale": {"domain": [1, 30], "nice": false, "zero": false}, "axis": null},
          "y": {"field": "val", "type": "quantitative", "scale": {"domain": [0, 2.5], "nice": false, "zero": false},
                "axis": {"orient": "right", "values": [0.1,0.3,0.5,0.7,0.9,1.1,1.3,1.5,1.7,1.9,2.1,2.3], "tickSize": 3, "labels": false, "domain": false, "title": null}}
        }
      }
    ]
  },
  {
    "width": 496, "height": 402,
    "resolve": {"scale": {"x": "independent", "y": "independent"}, "axis": {"x": "independent", "y": "independent"}},
    "layer": [
      {
        "data": {"name": "kl"},
        "mark": {"type": "line", "interpolate": "monotone", "stroke": "#555555", "strokeWidth": 1},
        "encoding": {
          "x": {"field": "wl", "type": "quantitative", "scale": {"domain": [1, 30], "nice": false, "zero": false},
                "axis": {"orient": "bottom", "values": [2,4,6,8,10,12,14,16,18,20,22,24,26,28,30], "format": "d", "tickSize": 5, "labelPadding": 9.5, "title": "Wavelength (μm)", "titleFontSize": 22, "titleFontWeight": "bold", "titlePadding": 7}},
          "y": {"field": "val", "type": "quantitative", "scale": {"domain": [0, 2.5], "nice": false, "zero": false},
                "axis": {"orient": "left", "values": [0,0.2,0.4,0.6,0.8,1.0,1.2,1.4,1.6,1.8,2.0,2.2,2.4], "format": ".1f", "tickSize": 5, "labelPadding": 11.5, "title": "Extinction Coefficient, κ", "titleFontSize": 25, "titleFontWeight": "normal", "titlePadding": 15.5}},
          "detail": {"field": "series", "type": "nominal"}
        }
      },
      {
        "data": {"name": "km"},
        "mark": {"type": "point", "filled": true, "size": 100, "strokeWidth": 1, "opacity": 1, "clip": true},
        "encoding": {
          "x": {"field": "wl", "type": "quantitative", "scale": {"domain": [1, 30], "nice": false, "zero": false},
                "axis": {"orient": "bottom", "values": [1,3,5,7,9,11,13,15,17,19,21,23,25,27,29], "tickSize": 3, "labels": false, "domain": false, "title": null}},
          "y": {"field": "val", "type": "quantitative", "scale": {"domain": [0, 2.5], "nice": false, "zero": false},
                "axis": {"orient": "left", "values": [0.1,0.3,0.5,0.7,0.9,1.1,1.3,1.5,1.7,1.9,2.1,2.3], "tickSize": 3, "labels": false, "domain": false, "title": null}},
          "shape": {"condition": [{"test": "datum.series === 'VOx'", "value": "M-1,0H1M0,-1V1M-0.7,-0.7L0.7,0.7M-0.7,0.7L0.7,-0.7"}, {"test": "datum.series === 'ZrO2'", "value": "circle"}], "value": "triangle-up"},
          "fill": {"condition": {"test": "datum.series === 'VOx'", "value": "transparent"}, "value": "black"},
          "stroke": {"condition": {"test": "datum.series === 'VOx'", "value": "#333333"}, "value": "black"}
        }
      },
      {
        "data": {"name": "km"},
        "mark": {"type": "point", "filled": true, "opacity": 0, "clip": true},
        "encoding": {
          "x": {"field": "wl", "type": "quantitative", "scale": {"domain": [1, 30], "nice": false, "zero": false}, "axis": null},
          "y": {"field": "val", "type": "quantitative", "scale": {"domain": [0, 2.5], "nice": false, "zero": false}, "axis": null},
          "shape": {"field": "series", "type": "nominal", "scale": {"domain": ["Si₃N₄","VOx","ZrO2"], "range": ["M-3.4,0H3.4M0,-0.85L0.9,0.6L-0.9,0.6Z", "M-3.4,0H3.4M0,-0.7V0.7M-0.5,-0.5L0.5,0.5M-0.5,0.5L0.5,-0.5", "M-3.4,0H3.4M0.6,0C0.6,0.33,0.33,0.6,0,0.6C-0.33,0.6,-0.6,0.33,-0.6,0C-0.6,-0.33,-0.33,-0.6,0,-0.6C0.33,-0.6,0.6,-0.33,0.6,0Z"]},
                    "legend": {"title": null, "orient": "none", "legendX": 42, "legendY": 30, "symbolSize": 196, "symbolOpacity": 1, "symbolStrokeWidth": 1, "labelFontSize": 19, "labelOffset": 18, "rowPadding": 11, "padding": 0, "labelLimit": 300}},
          "fill": {"field": "series", "type": "nominal", "scale": {"domain": ["Si₃N₄","VOx","ZrO2"], "range": ["black", "transparent", "black"]}},
          "stroke": {"field": "series", "type": "nominal", "scale": {"domain": ["Si₃N₄","VOx","ZrO2"], "range": ["#333333", "#333333", "#333333"]}}
        }
      },
      {
        "data": {"name": "kl"},
        "mark": {"type": "point", "opacity": 0, "clip": true},
        "encoding": {
          "x": {"field": "wl", "type": "quantitative", "scale": {"domain": [1, 30], "nice": false, "zero": false},
                "axis": {"orient": "top", "values": [2,3,4,5,6,7,8,9,10,11,12,13,14,15,16,17,18,19,20,21,22,23,24,25,26,27,28,29], "tickSize": 4, "offset": -4, "labels": false, "domain": false, "title": null}},
          "y": {"field": "val", "type": "quantitative", "scale": {"domain": [0, 2.5], "nice": false, "zero": false},
                "axis": {"orient": "right", "values": [0.2,0.4,0.6,0.8,1.0,1.2,1.4,1.6,1.8,2.0,2.2,2.4], "tickSize": 5, "offset": -5, "labels": false, "domain": false, "title": null}}
        }
      },
      {
        "data": {"name": "kl"},
        "mark": {"type": "point", "opacity": 0, "clip": true},
        "encoding": {
          "x": {"field": "wl", "type": "quantitative", "scale": {"domain": [1, 30], "nice": false, "zero": false}, "axis": null},
          "y": {"field": "val", "type": "quantitative", "scale": {"domain": [0, 2.5], "nice": false, "zero": false},
                "axis": {"orient": "right", "values": [0.1,0.3,0.5,0.7,0.9,1.1,1.3,1.5,1.7,1.9,2.1,2.3], "tickSize": 3, "offset": -3, "labels": false, "domain": false, "title": null}}
        }
      }
    ]
  }
]
}
